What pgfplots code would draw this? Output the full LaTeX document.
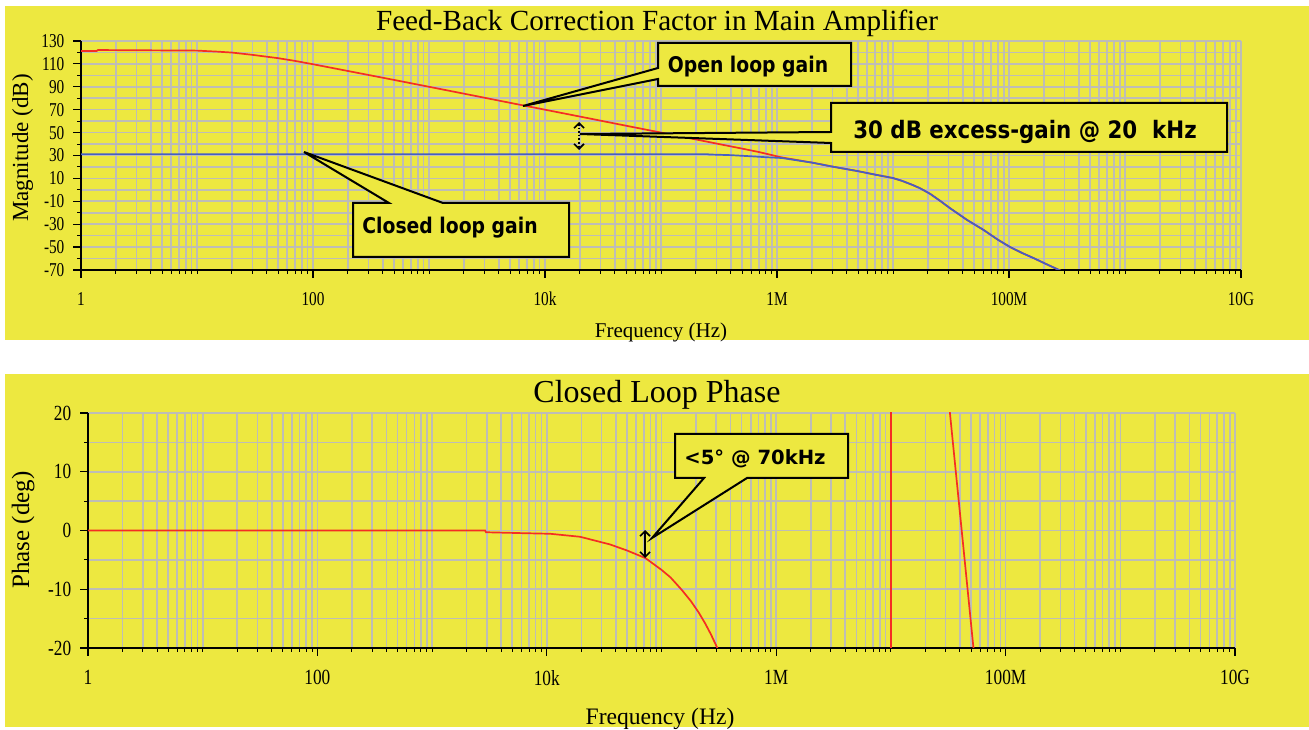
\documentclass[border=0pt]{standalone}
\usepackage{fontspec}
\setmainfont{Liberation Serif}
\newfontfamily\callfont{DejaVu Sans}
\usepackage{pgfplots}
\usepackage{pgfplotstable}
\pgfplotsset{compat=1.18}
\usetikzlibrary{arrows.meta}
\definecolor{bgyellow}{RGB}{237,232,64}
\definecolor{gridgray}{RGB}{190,189,182}
\definecolor{curvered}{RGB}{245,45,35}
\definecolor{curveblue}{RGB}{70,95,195}

\pgfplotstableread{
f dB
1 121.2
1.36 121.2
1.4 122.1
10 121.6
15 120.7
20 119.9
30 117.9
50 115
70 112.6
100 109.7
200 103.8
500 96
1000 90
2000 84
5000 76
10000 70
20000 64
50000 56
100000 50
200000 44
500000 36
700000 33
1100000 28.3
2000000 23.8
3040000 20.2
5000000 16.3
7000000 13.3
10000000 10.3
12000000 7.8
14800000 4.2
17100000 1.4
20900000 -3.5
25400000 -9.5
30900000 -15.9
43500000 -26.3
60300000 -35
80000000 -43.5
102000000 -49.9
130000000 -55.2
162000000 -59.5
205000000 -64.4
257000000 -69
300000000 -72
}\openloop

\pgfplotstableread{
f dB
1 31.2
250000 31.2
260000 30.9
400000 30.3
600000 29.3
800000 28.5
1100000 27.8
2000000 23.8
3040000 20.2
5000000 16.3
7000000 13.3
10000000 10.3
12000000 7.8
14800000 4.2
17100000 1.4
20900000 -3.5
25400000 -9.5
30900000 -15.9
43500000 -26.3
60300000 -35
80000000 -43.5
102000000 -49.9
130000000 -55.2
162000000 -59.5
205000000 -64.4
257000000 -69
300000000 -72
}\closedloop

\pgfplotstableread{
f deg
1 0
2900 0
2950 -0.3
6000 -0.45
10700 -0.56
19500 -1.07
35500 -2.37
50000 -3.4
72400 -4.7
100000 -6.7
120000 -8.0
150000 -10.1
180000 -12.0
210000 -13.9
240000 -15.8
270000 -17.7
300000 -19.6
330000 -21.3
10000000 -180
10000000 180
25100000 42.4
32700000 20
52200000 -19.6
63100000 -35.6
}\phase

\begin{document}
\begin{tikzpicture}
\begin{scope}[x=0.5pt,y=-0.5pt]
  \fill[white] (0,0) rectangle (1309,727);
  \fill[bgyellow] (5,6) rectangle (1309,340);
  \fill[bgyellow] (5,374) rectangle (1309,727);
\end{scope}

\begin{axis}[
  scale only axis, anchor=north west, at={(40.5pt,-20.5pt)}, width=580pt, height=114.5pt,
  xmode=log, xmin=1, xmax=1e10,
  axis x line*=bottom, axis y line*=left,
  axis line style={black, line width=0.75pt},
  xtick={1,100,1e4,1e6,1e8,1e10},
  xticklabels={1,100,10k,1M,100M,10G},
  minor xtick={2,3,4,5,6,7,8,9,10,20,30,40,50,60,70,80,90,200,300,400,500,600,700,800,900,1000,2000,3000,4000,5000,6000,7000,8000,9000,2e4,3e4,4e4,5e4,6e4,7e4,8e4,9e4,1e5,2e5,3e5,4e5,5e5,6e5,7e5,8e5,9e5,2e6,3e6,4e6,5e6,6e6,7e6,8e6,9e6,1e7,2e7,3e7,4e7,5e7,6e7,7e7,8e7,9e7,2e8,3e8,4e8,5e8,6e8,7e8,8e8,9e8,1e9,2e9,3e9,4e9,5e9,6e9,7e9,8e9,9e9},
  grid=both,
  major grid style={gridgray, line width=0.8pt},
  minor grid style={gridgray, line width=0.8pt},
  tick align=outside,
  major tick length=4pt, minor tick length=2pt,
  tick style={black, line width=0.6pt},
  minor tick style={black, line width=0.5pt},
  ymin=-70, ymax=130,
  ytick={-70,-50,...,130},
  yticklabels={-70,-50,-30,-10,10,30,50,70,90,110,130},
  minor ytick={-60,-40,...,120},
  xticklabel style={font=\fontsize{9.8}{9.8}\selectfont, xscale=0.78, yshift=-3.5pt},
  yticklabel style={font=\fontsize{9.8}{9.8}\selectfont, xscale=0.78, xshift=-2pt},
]
\addplot[curvered, line width=0.85pt] table[x=f,y=dB] {\openloop};
\addplot[curveblue, line width=0.85pt] table[x=f,y=dB] {\closedloop};
\end{axis}

\begin{axis}[
  scale only axis, anchor=north west, at={(44pt,-206.5pt)}, width=573.5pt, height=117.5pt,
  xmode=log, xmin=1, xmax=1e10,
  axis x line*=bottom, axis y line*=left,
  axis line style={black, line width=0.75pt},
  xtick={1,100,1e4,1e6,1e8,1e10},
  xticklabels={1,100,10k,1M,100M,10G},
  minor xtick={2,3,4,5,6,7,8,9,10,20,30,40,50,60,70,80,90,200,300,400,500,600,700,800,900,1000,2000,3000,4000,5000,6000,7000,8000,9000,2e4,3e4,4e4,5e4,6e4,7e4,8e4,9e4,1e5,2e5,3e5,4e5,5e5,6e5,7e5,8e5,9e5,2e6,3e6,4e6,5e6,6e6,7e6,8e6,9e6,1e7,2e7,3e7,4e7,5e7,6e7,7e7,8e7,9e7,2e8,3e8,4e8,5e8,6e8,7e8,8e8,9e8,1e9,2e9,3e9,4e9,5e9,6e9,7e9,8e9,9e9},
  grid=both,
  major grid style={gridgray, line width=0.8pt},
  minor grid style={gridgray, line width=0.8pt},
  tick align=outside,
  major tick length=4pt, minor tick length=2pt,
  tick style={black, line width=0.6pt},
  minor tick style={black, line width=0.5pt},
  ymin=-20, ymax=20,
  ytick={-20,-10,0,10,20},
  yticklabels={-20,-10,0,10,20},
  minor ytick={-15,-5,5,15},
  xticklabel style={font=\fontsize{10.8}{10.8}\selectfont, xscale=0.8, yshift=-3.5pt},
  yticklabel style={font=\fontsize{10.8}{10.8}\selectfont, xscale=0.8, xshift=-2pt},
]
\addplot[curvered, line width=0.85pt] table[x=f,y=deg] {\phase};
\end{axis}

\begin{scope}[x=0.5pt,y=-0.5pt]
  \node[anchor=base, font=\fontsize{14.6}{14.6}\selectfont, inner sep=0] at (657,31) {Feed-Back Correction Factor in Main Amplifier};
  \node[anchor=base, font=\fontsize{10.5}{10.5}\selectfont, inner sep=0] at (661,338) {Frequency (Hz)};
  \node[anchor=base, rotate=90, font=\fontsize{11.5}{11.5}\selectfont, inner sep=0] at (28,148) {Magnitude (dB)};
  \node[anchor=base, font=\fontsize{16}{16}\selectfont, inner sep=0] at (657,403) {Closed Loop Phase};
  \node[anchor=base, font=\fontsize{11.8}{11.8}\selectfont, inner sep=0] at (660,724) {Frequency (Hz)};
  \node[anchor=base, rotate=90, font=\fontsize{12.5}{12.5}\selectfont, inner sep=0] at (29,530) {Phase (deg)};

  \filldraw[fill=bgyellow, draw=black, line width=1pt, line join=miter]
    (658,43) -- (851,43) -- (851,86) -- (658,86) -- (658,79) -- (523,106) -- (658,68) -- cycle;
  \node[anchor=base, inner sep=0, xscale=0.87, font=\callfont\bfseries\fontsize{10.8}{10.8}\selectfont] at (748,73) {Open loop gain};

  \filldraw[fill=bgyellow, draw=black, line width=1pt, line join=miter]
    (831,103) -- (1227,103) -- (1227,152) -- (831,152) -- (831,143) -- (580,134) -- (831,132) -- cycle;
  \node[anchor=base, inner sep=0, xscale=0.89, font=\callfont\bfseries\fontsize{12}{12}\selectfont] at (1025,139) {30 dB excess-gain @ 20\ \ kHz};
  \draw[densely dotted, line width=0.8pt, {Straight Barb[length=2.5pt,width=5pt]}-{Straight Barb[length=2.5pt,width=5pt]}] (579,122) -- (579,150);

  \filldraw[fill=bgyellow, draw=black, line width=1pt, line join=miter]
    (353,203) -- (389,203) -- (304,152) -- (443,203) -- (569,203) -- (569,257) -- (353,257) -- cycle;
  \node[anchor=base, inner sep=0, xscale=0.87, font=\callfont\bfseries\fontsize{10.8}{10.8}\selectfont] at (450,234) {Closed loop gain};

  \filldraw[fill=bgyellow, draw=black, line width=1pt, line join=miter]
    (675,434) -- (848,434) -- (848,478) -- (747,478) -- (652,538) -- (704,478) -- (675,478) -- cycle;
  \node[anchor=base, inner sep=0, font=\callfont\bfseries\fontsize{9.8}{9.8}\selectfont] at (755,465) {<5° @ 70kHz};
  \draw[line width=0.8pt, {Straight Barb[length=2.5pt,width=5pt]}-{Straight Barb[length=2.5pt,width=5pt]}] (645,530) -- (645,558);
\end{scope}
\end{tikzpicture}
\end{document}
